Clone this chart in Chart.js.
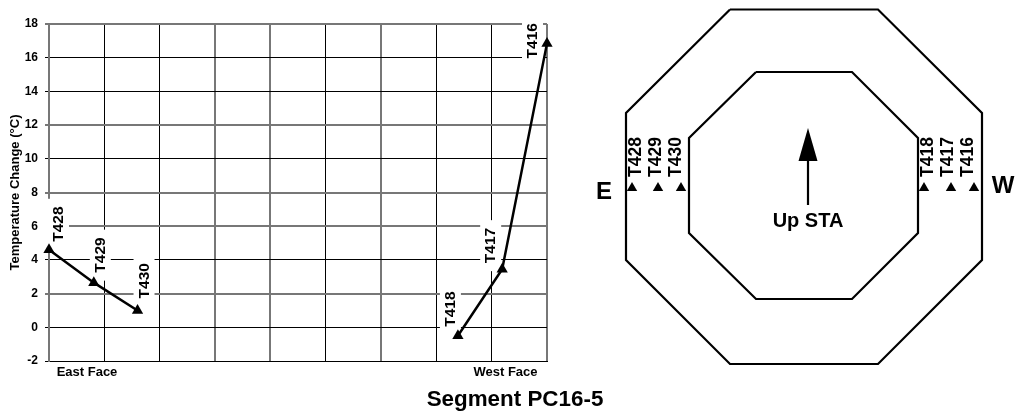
<!DOCTYPE html>
<html>
<head>
<meta charset="utf-8">
<title>Segment PC16-5</title>
<script src="https://cdn.jsdelivr.net/npm/chart.js@4/dist/chart.umd.js"></script>
<style>
  html, body { margin: 0; padding: 0; background: #fff; }
  #wrap { position: relative; width: 1017px; height: 414px; overflow: hidden; }
  #tempWrap { position: absolute; left: 0; top: 0; width: 620px; height: 414px; }
  #sectionWrap { position: absolute; left: 580px; top: 0; width: 437px; height: 414px; }
</style>
</head>
<body>
<div id="wrap">
  <div id="tempWrap"><canvas id="tempChart"></canvas></div>
  <div id="sectionWrap"><canvas id="sectionChart"></canvas></div>
</div>
<script>
const FONT = '"Liberation Sans", Arial, sans-serif';

// Temperature chart, x runs across the segment width (9 grid divisions)
const eastLabels = ['T428', 'T429', 'T430'];
const eastX = [0, 0.81, 1.6];
const eastTemps = [4.6, 2.65, 1.0];
const westLabels = ['T418', 'T417', 'T416'];
const westX = [7.39, 8.19, 9];
const westTemps = [-0.5, 3.45, 16.85];
const xTicks = [0, 1, 2, 3, 4, 5, 6, 7, 8, 9];
const yTicks = [-2, 0, 2, 4, 6, 8, 10, 12, 14, 16, 18];

// Cross section, in the page's own units
const outerX = [730, 878, 982, 982, 878, 730, 626, 626, 730];
const outerY = [9.5, 9.5, 113, 260, 364, 364, 260, 113, 9.5];
const innerX = [756, 852, 918, 918, 852, 756, 689, 689, 756];
const innerY = [72, 72, 138, 233, 299, 299, 233, 138, 72];
const sensorLabels = ['T428', 'T429', 'T430', 'T418', 'T417', 'T416'];
const sensorX = [632, 658, 681, 924, 951, 974];
const sensorY = [188, 188, 188, 188, 188, 188];
const shaftX = [808, 808];
const shaftY = [205, 158];
const headX = [798.5, 808, 817.5];
const headY = [161, 128, 161];

// The scan's grid lines come out either thin black or wider grey
const greyVerticals = [0, 3, 4, 6, 9];
const greyHorizontals = [18, 12, 8, 6, 2];

function toPoints(xs, ys) {
  return xs.map((x, i) => ({ x: x, y: ys[i] }));
}

function drawUpText(ctx, text, x, bottom, size) {
  ctx.save();
  ctx.translate(x, bottom);
  ctx.rotate(-Math.PI / 2);
  ctx.font = 'bold ' + size + 'px ' + FONT;
  ctx.fillStyle = '#000';
  ctx.textAlign = 'left';
  ctx.textBaseline = 'middle';
  ctx.fillText(text, 0, 0);
  ctx.restore();
}

function drawFlatText(ctx, text, x, y, size) {
  ctx.save();
  ctx.font = 'bold ' + size + 'px ' + FONT;
  ctx.fillStyle = '#000';
  ctx.textAlign = 'center';
  ctx.textBaseline = 'middle';
  ctx.fillText(text, x, y);
  ctx.restore();
}

// Where each sensor name sits relative to its marker on the left chart
const tempLabelPlace = {
  T428: { dx: 10, dy: -8, maskLeft: 18 },
  T429: { dx: 7, dy: -10, maskLeft: 11 },
  T430: { dx: 7, dy: -12, maskLeft: 11 },
  T418: { dx: -7, dy: -9, maskLeft: 11 },
  T417: { dx: -11, dy: -6, maskLeft: 11 },
  T416: { dx: -14, dy: 15, maskLeft: 11 }
};

function tempLabelSpots(chart) {
  const spots = [];
  const xs = chart.scales.x, ys = chart.scales.y;
  const add = (names, px, py) => names.forEach((name, i) => {
    const p = tempLabelPlace[name];
    spots.push({ name, p, x: xs.getPixelForValue(px[i]) + p.dx, bottom: ys.getPixelForValue(py[i]) + p.dy });
  });
  add(eastLabels, eastX, eastTemps);
  add(westLabels, westX, westTemps);
  return spots;
}

const tempText = {
  id: 'tempText',
  beforeDatasetsDraw(chart) {
    const ctx = chart.ctx;
    ctx.save();
    ctx.fillStyle = '#fff';
    tempLabelSpots(chart).forEach(s => {
      ctx.fillRect(s.x - s.p.maskLeft, s.bottom - 43, s.p.maskLeft + 10, 51);
    });
    ctx.restore();
  },
  afterDatasetsDraw(chart) {
    const ctx = chart.ctx;
    tempLabelSpots(chart).forEach(s => drawUpText(ctx, s.name, s.x, s.bottom, 15.5));
    drawFlatText(ctx, 'East Face', 87, 372, 13);
    drawFlatText(ctx, 'West Face', 505.5, 372, 13);
    drawFlatText(ctx, 'Segment PC16-5', 515, 400, 22.4);
  }
};

new Chart(document.getElementById('tempChart'), {
  type: 'scatter',
  data: {
    datasets: [
      { data: toPoints(eastX, eastTemps) },
      { data: toPoints(westX, westTemps) }
    ]
  },
  options: {
    responsive: true,
    maintainAspectRatio: false,
    animation: false,
    layout: { autoPadding: false, padding: { top: 24, right: 73 } },
    clip: false,
    showLine: true,
    borderColor: '#000',
    backgroundColor: '#000',
    borderWidth: 2.5,
    pointStyle: 'triangle',
    pointRadius: 6.5,
    pointBackgroundColor: '#000',
    pointBorderColor: '#000',
    pointBorderWidth: 0,
    plugins: { legend: { display: false }, tooltip: { enabled: false } },
    scales: {
      x: {
        type: 'linear',
        min: 0,
        max: 9,
        afterFit(scale) { scale.height = 53; },
        afterBuildTicks(scale) { scale.ticks = xTicks.map(v => ({ value: v })); },
        ticks: { display: false },
        border: { color: '#000', width: 1 },
        grid: {
          color: c => greyVerticals.includes(c.tick.value) ? '#777' : '#000',
          lineWidth: c => greyVerticals.includes(c.tick.value) ? 2 : 1,
          drawTicks: false
        }
      },
      y: {
        min: -2,
        max: 18,
        afterFit(scale) { scale.width = 49; },
        afterBuildTicks(scale) { scale.ticks = yTicks.map(v => ({ value: v })); },
        title: {
          display: true,
          text: 'Temperature Change (°C)',
          color: '#000',
          font: { family: FONT, size: 13, weight: 'bold' },
          padding: { top: 8, bottom: 0 }
        },
        ticks: {
          color: '#000',
          font: { family: FONT, size: 12, weight: 'bold' },
          padding: 7,
          autoSkip: false
        },
        border: { color: '#777', width: 2 },
        grid: {
          color: c => greyHorizontals.includes(c.tick.value) ? '#777' : '#000',
          lineWidth: c => greyHorizontals.includes(c.tick.value) ? 2 : 1,
          tickLength: 4
        }
      }
    }
  },
  plugins: [tempText]
});

const labelOffsets = [4, -2, -5, 4, -3, -6];

const sectionText = {
  id: 'sectionText',
  afterDatasetsDraw(chart) {
    const ctx = chart.ctx;
    const xs = chart.scales.x, ys = chart.scales.y;
    sensorLabels.forEach((name, i) => {
      drawUpText(ctx, name, xs.getPixelForValue(sensorX[i]) + labelOffsets[i], ys.getPixelForValue(177), 17.5);
    });
    drawFlatText(ctx, 'E', xs.getPixelForValue(604), ys.getPixelForValue(192), 24);
    drawFlatText(ctx, 'W', xs.getPixelForValue(1003), ys.getPixelForValue(186), 24);
    drawFlatText(ctx, 'Up STA', xs.getPixelForValue(808), ys.getPixelForValue(221), 20);
  }
};

function outline(xs, ys) {
  return { data: toPoints(xs, ys), showLine: true, borderColor: '#000', borderWidth: 2.2, pointRadius: 0 };
}

new Chart(document.getElementById('sectionChart'), {
  type: 'scatter',
  data: {
    datasets: [
      outline(outerX, outerY),
      outline(innerX, innerY),
      outline(shaftX, shaftY),
      {
        data: toPoints(headX, headY),
        showLine: true,
        fill: 'shape',
        backgroundColor: '#000',
        borderColor: '#000',
        borderWidth: 0,
        pointRadius: 0
      },
      {
        data: toPoints(sensorX, sensorY),
        pointStyle: 'triangle',
        pointRadius: 6,
        pointBackgroundColor: '#000',
        pointBorderWidth: 0
      }
    ]
  },
  options: {
    responsive: true,
    maintainAspectRatio: false,
    animation: false,
    clip: false,
    layout: { autoPadding: false },
    plugins: { legend: { display: false }, tooltip: { enabled: false } },
    scales: {
      x: { type: 'linear', min: 580, max: 1017, display: false },
      y: { type: 'linear', min: 0, max: 414, reverse: true, display: false }
    }
  },
  plugins: [sectionText]
});
</script>
</body>
</html>
